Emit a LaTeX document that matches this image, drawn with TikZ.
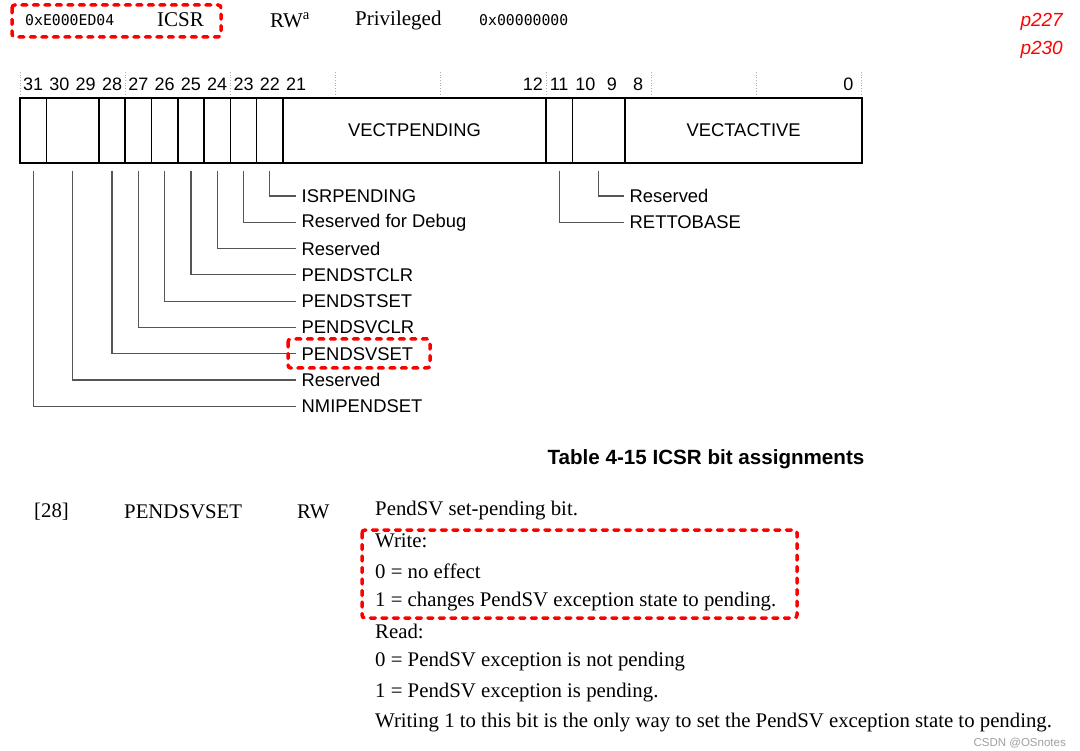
\documentclass[tikz,border=0pt]{standalone}
\usepackage{fontspec}
\setmainfont{Liberation Serif}
\setsansfont{Liberation Sans}
\setmonofont{DejaVu Sans Mono}
\usetikzlibrary{positioning}
\definecolor{regred}{RGB}{255,0,0}
\definecolor{leadgray}{RGB}{85,85,85}
\definecolor{tickgray}{RGB}{175,175,175}
\definecolor{markgray}{RGB}{160,160,160}

\tikzset{
  bitnum/.style={font=\sffamily\fontsize{18}{18}\selectfont, inner sep=0pt},
  fieldname/.style={font=\sffamily\fontsize{18.4}{20}\selectfont, inner sep=0pt},
  fieldlbl/.style={font=\sffamily\fontsize{18.4}{20}\selectfont, anchor=west, inner xsep=5.5pt, inner ysep=0pt},
  leader/.style={leadgray, line width=1.2pt},
  hilite/.style={regred, line width=3.5pt, dash pattern=on 5pt off 6.5pt, line cap=round, rounded corners=3pt},
  head/.style={font=\fontsize{21}{21}\selectfont, anchor=west, inner sep=0pt},
  headmono/.style={font=\ttfamily\fontsize{14.8}{15}\selectfont, anchor=west, inner sep=0pt},
  desc/.style={font=\fontsize{20.8}{21}\selectfont, anchor=west, inner sep=0pt},
  pageref/.style={font=\sffamily\itshape\fontsize{19}{19}\selectfont, text=regred, anchor=east, inner sep=0pt},
}

\begin{document}
\begin{tikzpicture}[x=1pt, y=-1pt]
  \useasboundingbox[fill=white] (0,0) rectangle (1080,751);

  % register header line
  \node[headmono] (addr) at (25,20) {0xE000ED04};
  \node[head] (name) at (157,20) {ICSR};
  \node[head] (acc) at (270,20) {RW\textsuperscript{a}};
  \node[head] (priv) at (355,20) {Privileged};
  \node[headmono] (reset) at (479,20) {0x00000000};
  \draw[hilite] (12,5) rectangle (221,37);

  \node[pageref] (pga) at (1063,22) {p227};
  \node[pageref] (pgb) at (1063,50) {p230};

  % bit numbers and nibble ticks
  \foreach \k in {0,...,8}
    \draw[tickgray, dotted, line width=0.7pt] ({20+\k*105.2},72) -- ++(0,24);
  \foreach \b in {31,30,...,21,12,11,10,9,8,0}
    \node[bitnum] (n\b) at ({20+(31.5-\b)*26.3},84) {\b};

  % register cells
  \draw[line width=1.5pt] (20,98) rectangle (862,163);
  \foreach \b in {31,29,28,27,26,25,24,23,22,12,11,9}
    \draw[line width=1.5pt] ({20+(32-\b)*26.3},98) -- ++(0,65);
  \node[fieldname] (vectpend) at (414.5,130) {VECTPENDING};
  \node[fieldname] (vectact) at (743.6,130) {VECTACTIVE};

  % leaders, left group
  \foreach \b/\t [count=\i from 0] in {22/ISRPENDING, 23/Reserved for Debug,
      24/Reserved, 25/PENDSTCLR, 26/PENDSTSET, 27/PENDSVCLR, 28/PENDSVSET,
      29.5/Reserved, 31/NMIPENDSET} {
    \node[fieldlbl] (lbl\i) at (296,{196+\i*26.3}) {\t};
    \draw[leader] ({20+(31.5-\b)*26.3},171) |- (lbl\i.west);
  }
  \draw[hilite] (288,339) rectangle (430,368);

  % leaders, right group
  \node[fieldlbl] (resv) at (624,196) {Reserved};
  \node[fieldlbl] (retto) at (624,222.3) {RETTOBASE};
  \draw[leader] (598.6,171) |- (resv.west);
  \draw[leader] (559.2,171) |- (retto.west);

  % bit assignment table
  \node[font=\sffamily\bfseries\fontsize{20.6}{21}\selectfont, inner sep=0pt] (title) at (706,459) {Table 4-15 ICSR bit assignments};

  \node[desc] (bits) at (34,512) {[28]};
  \node[desc] (fname) at (124,512) {PENDSVSET};
  \node[desc] (ftype) at (297,512) {RW};
  \foreach \t [count=\i from 0] in {PendSV set-pending bit., Write:, 0 = no effect,
      1 = changes PendSV exception state to pending., Read:,
      0 = PendSV exception is not pending, 1 = PendSV exception is pending.,
      Writing 1 to this bit is the only way to set the PendSV exception state to pending.}
    \node[desc] (d\i) at (375,{511+\i*30.2}) {\t};
  \draw[hilite] (362,530) rectangle (797,618);

  \node[font=\sffamily\fontsize{11.5}{12}\selectfont, text=markgray, anchor=east, inner sep=0pt] (mark) at (1066,743) {CSDN @OSnotes};
\end{tikzpicture}
\end{document}
